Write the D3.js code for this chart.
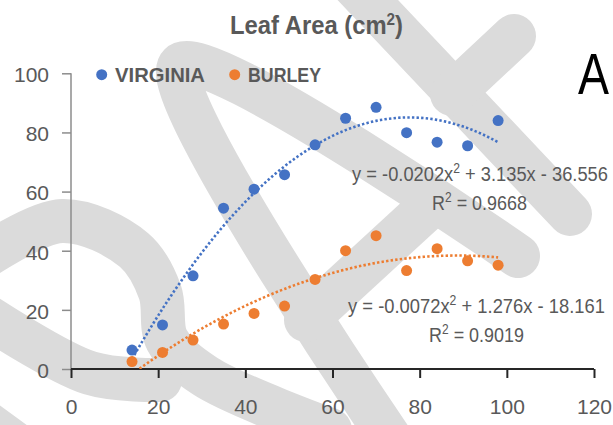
<!DOCTYPE html>
<html>
<head>
<meta charset="utf-8">
<script src="https://cdn.jsdelivr.net/npm/d3@7"></script>
<style>
  body { margin: 0; background: #fff; }
  svg { display: block; font-family: "Liberation Sans", Arial, sans-serif; }
</style>
</head>
<body>
<script>
var days = [14, 21, 28, 35, 42, 49, 56, 63, 70, 77, 84, 91, 98];
var virginia = [6.4, 14.9, 31.5, 54.4, 60.8, 65.7, 75.8, 84.8, 88.5, 79.9, 76.7, 75.5, 84.0];
var burley = [2.5, 5.6, 9.8, 15.2, 18.8, 21.3, 30.3, 40.0, 45.1, 33.3, 40.7, 36.6, 35.1];
var seriesNames = ["VIRGINIA", "BURLEY"];
var seriesColors = ["#4472C4", "#ED7D31"];
// trendline coefficients (a, b, c) as printed on the chart
var virginiaFit = [-0.0202, 3.135, -36.556];
var burleyFit = [-0.0072, 1.276, -18.161];
var fitLabels = [["y = -0.0202x", " + 3.135x - 36.556", "R", " = 0.9668"],
                 ["y = -0.0072x", " + 1.276x - 18.161", "R", " = 0.9019"]];
var xTicks = [0, 20, 40, 60, 80, 100, 120];
var yTicks = [0, 20, 40, 60, 80, 100];

var width = 613, height = 425;
var grey = "#595959";

var svg = d3.select("body").append("svg")
    .attr("width", width)
    .attr("height", height);

// draft watermark strokes in the background
var mark = svg.append("g")
    .attr("fill", "none")
    .attr("stroke", "#dbdbdb")
    .attr("stroke-width", 44)
    .attr("stroke-linecap", "round")
    .attr("stroke-linejoin", "round");
var markLine = d3.line().curve(d3.curveCatmullRom);
var strokes = [
    [[518, 256], [180, 65], [398, 450]],
    [[306, 320], [430, 206]],
    [[330, -40], [570, 214]],
    [[452, 94], [514, 36]],
    [[-20, 260], [62, 221], [134, 250], [160, 292], [167, 340], [205, 376], [330, 430]],
    [[-20, 312], [90, 373], [160, 380]],
    [[-20, 418], [40, 462]]
];
strokes.forEach(function(s) {
    mark.append("path").attr("d", s.length > 2 ? markLine(s) : d3.line()(s));
});

var xScale = d3.scaleLinear().domain([0, 120]).range([71, 594]);
var yScale = d3.scaleLinear().domain([0, 100]).range([369, 73.3]);

// axes
var xAxis = d3.axisBottom(xScale).tickValues(xTicks).tickSize(9).tickPadding(21);
var yAxis = d3.axisLeft(yScale).tickValues(yTicks).tickSize(9).tickPadding(13);

var gy = svg.append("g")
    .attr("transform", "translate(" + xScale(0) + ",0)")
    .call(yAxis);
gy.select(".domain").attr("stroke", "#8c8c8c").attr("stroke-width", 1.5)
    .attr("d", "M0," + yScale(100) + "V" + yScale(0));
gy.selectAll(".tick line").attr("stroke", "#8c8c8c").attr("stroke-width", 1.5);
gy.selectAll(".tick text").attr("fill", grey).attr("font-size", 21)
    .attr("font-family", "Liberation Sans, Arial, sans-serif").attr("dy", "0.4em");

var gx = svg.append("g")
    .attr("transform", "translate(0," + yScale(0) + ")")
    .call(xAxis);
gx.select(".domain").attr("stroke", "#262626").attr("stroke-width", 2)
    .attr("d", "M" + xScale(0) + ",0H" + xScale(120));
gx.selectAll(".tick line").attr("stroke", "#262626").attr("stroke-width", 2);
gx.selectAll(".tick text").attr("fill", grey).attr("font-size", 21)
    .attr("font-family", "Liberation Sans, Arial, sans-serif");

// clip trendlines to plot area
svg.append("clipPath").attr("id", "plot")
    .append("rect")
    .attr("x", xScale(0)).attr("y", yScale(100))
    .attr("width", xScale(120) - xScale(0))
    .attr("height", yScale(0) - yScale(100));

function fitPoints(c) {
    return d3.range(days[0], days[days.length - 1] + 0.5, 1).map(function(x) {
        return [x, c[0] * x * x + c[1] * x + c[2]];
    });
}

var line = d3.line()
    .x(function(d) { return xScale(d[0]); })
    .y(function(d) { return yScale(d[1]); })
    .curve(d3.curveMonotoneX);

[virginiaFit, burleyFit].forEach(function(c, i) {
    svg.append("path")
        .datum(fitPoints(c))
        .attr("clip-path", "url(#plot)")
        .attr("fill", "none")
        .attr("stroke", seriesColors[i])
        .attr("stroke-width", 2.6)
        .attr("stroke-dasharray", "2.4 2.2")
        .attr("d", line);
});

// markers
[virginia, burley].forEach(function(vals, i) {
    svg.append("g").selectAll("circle")
        .data(vals)
        .enter()
        .append("circle")
        .attr("cx", function(d, j) { return xScale(days[j]); })
        .attr("cy", function(d) { return yScale(d); })
        .attr("r", 5.5)
        .attr("fill", seriesColors[i]);
});

// text squeezed horizontally to match the narrow source font
function squeeze(sel, target) {
    var w = sel.node().getComputedTextLength();
    var cx = +sel.attr("data-cx"), y = +sel.attr("data-y");
    sel.attr("transform", "translate(" + cx + "," + y + ") scale(" + (target / w) + ",1)");
}

function addText(cx, y, size, opts) {
    opts = opts || {};
    return svg.append("text")
        .attr("data-cx", cx).attr("data-y", y)
        .attr("text-anchor", "middle")
        .attr("font-size", size)
        .attr("font-weight", opts.bold ? "bold" : null)
        .attr("fill", opts.color || grey);
}

// title
var title = addText(316.5, 34, 25, {bold: true});
title.append("tspan").text("Leaf Area (cm");
title.append("tspan").attr("font-size", 16).attr("dy", -9).text("2");
title.append("tspan").attr("dy", 9).text(")");
squeeze(title, 173);

// legend
var legendX = [[101.7, 160, 90], [234.7, 284.5, 73]];
seriesNames.forEach(function(name, i) {
    svg.append("circle")
        .attr("cx", legendX[i][0]).attr("cy", 74.7)
        .attr("r", 5.5)
        .attr("fill", seriesColors[i]);
    var t = addText(legendX[i][1], 82, 21, {bold: true}).text(name);
    squeeze(t, legendX[i][2]);
});

// panel letter
var letter = addText(593.5, 94, 58, {color: "#000"}).text("A");
squeeze(letter, 31);

// trendline labels
var labelPos = [[480, 181, 256, 479.5, 210, 95], [476.5, 313, 257, 476.5, 342, 95]];
fitLabels.forEach(function(lab, i) {
    var p = labelPos[i];
    var eq = addText(p[0], p[1], 21);
    eq.append("tspan").text(lab[0]);
    eq.append("tspan").attr("font-size", 14).attr("dy", -8).text("2");
    eq.append("tspan").attr("dy", 8).text(lab[1]);
    squeeze(eq, p[2]);
    var r2 = addText(p[3], p[4], 21);
    r2.append("tspan").text(lab[2]);
    r2.append("tspan").attr("font-size", 14).attr("dy", -8).text("2");
    r2.append("tspan").attr("dy", 8).text(lab[3]);
    squeeze(r2, p[5]);
});
</script>
</body>
</html>
